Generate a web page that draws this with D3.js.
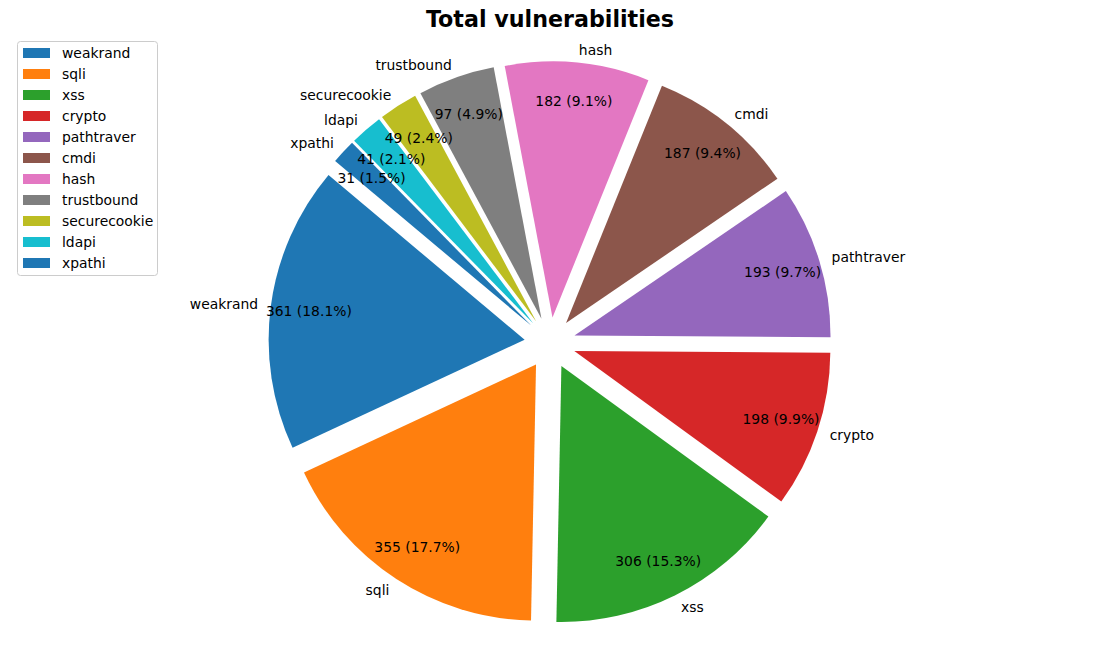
<!DOCTYPE html>
<html lang="en">
<head>
<meta charset="utf-8">
<title>Total vulnerabilities</title>
<script src="https://d3js.org/d3.v7.min.js"></script>
<style>
  body { margin: 0; background: #fff; }
  text { font-family: "DejaVu Sans", sans-serif; fill: #000; }
  .title { font-size: 22.2px; font-weight: bold; }
  .lbl, .pct, .legend text { font-size: 13.9px; }
</style>
</head>
<body>
<div id="chart"></div>
<script>
// data
const categories = ["weakrand", "sqli", "xss", "crypto", "pathtraver", "cmdi", "hash", "trustbound", "securecookie", "ldapi", "xpathi"];
const counts = [361, 355, 306, 198, 193, 187, 182, 97, 49, 41, 31];
const colors = ["#1f77b4", "#ff7f0e", "#2ca02c", "#d62728", "#9467bd", "#8c564b", "#e377c2", "#7f7f7f", "#bcbd22", "#17becf", "#1f77b4"];

const W = 1100, H = 660;
const cx = 550, cy = 343, r = 256;
const explode = 0.1, pctDist = 0.85, labelDist = 1.05;
const startAngle = 140; // degrees, counterclockwise like matplotlib

const total = d3.sum(counts);
const data = categories.map((c, i) => ({ name: c, value: counts[i], color: colors[i] }));

// percent computed in single precision (so 17.75 shows as 17.7 like the original)
function pctText(v) {
  const frac = Math.fround(v / total);
  return `${v} (${(100 * frac).toFixed(1)}%)`;
}

const svg = d3.select("#chart").append("svg")
  .attr("width", W).attr("height", H);

svg.append("text").attr("class", "title")
  .attr("x", 550).attr("y", 27)
  .attr("text-anchor", "middle")
  .text("Total vulnerabilities");

// d3 angles: 0 at 12 o'clock, clockwise; convert from ccw start at 3 o'clock
const pie = d3.pie().value(d => d.value).sort(null)
  .startAngle((90 - startAngle) * Math.PI / 180)
  .endAngle((90 - startAngle - 360) * Math.PI / 180);

const arcs = pie(data);
const arc = d3.arc().innerRadius(0).outerRadius(r);

function pos(a, k) {
  const m = (a.startAngle + a.endAngle) / 2;
  const e = explode;
  return [Math.sin(m) * r * (k + e), -Math.cos(m) * r * (k + e)];
}

const g = svg.append("g").attr("transform", `translate(${cx},${cy})`);

// wedges first
g.selectAll("path.wedge").data(arcs).join("path")
  .attr("class", "wedge")
  .attr("transform", d => { const p = pos(d, 0); return `translate(${p[0]},${p[1]})`; })
  .attr("d", arc)
  .attr("fill", d => d.data.color);

// then texts on top
g.selectAll("text.lbl").data(arcs).join("text")
  .attr("class", "lbl")
  .attr("x", d => pos(d, labelDist)[0])
  .attr("y", d => pos(d, labelDist)[1])
  .attr("dy", "0.35em")
  .attr("text-anchor", d => pos(d, labelDist)[0] > 0 ? "start" : "end")
  .text(d => d.data.name);

g.selectAll("text.pct").data(arcs).join("text")
  .attr("class", "pct")
  .attr("x", d => pos(d, pctDist)[0])
  .attr("y", d => pos(d, pctDist)[1])
  .attr("dy", "0.35em")
  .attr("text-anchor", "middle")
  .text(d => pctText(d.data.value));

// legend
const lg = svg.append("g").attr("class", "legend").attr("transform", "translate(17,41)");
lg.append("rect")
  .attr("x", 0.5).attr("y", 0.5)
  .attr("width", 140).attr("height", 234)
  .attr("rx", 3)
  .attr("fill", "#fff").attr("stroke", "#cccccc");

const item = lg.selectAll("g.item").data(data).join("g")
  .attr("class", "item")
  .attr("transform", (d, i) => `translate(6,${7 + i * 21})`);
item.append("rect")
  .attr("width", 27).attr("height", 10)
  .attr("fill", d => d.color);
item.append("text")
  .attr("x", 39).attr("y", 5).attr("dy", "0.35em")
  .text(d => d.name);
</script>
</body>
</html>
